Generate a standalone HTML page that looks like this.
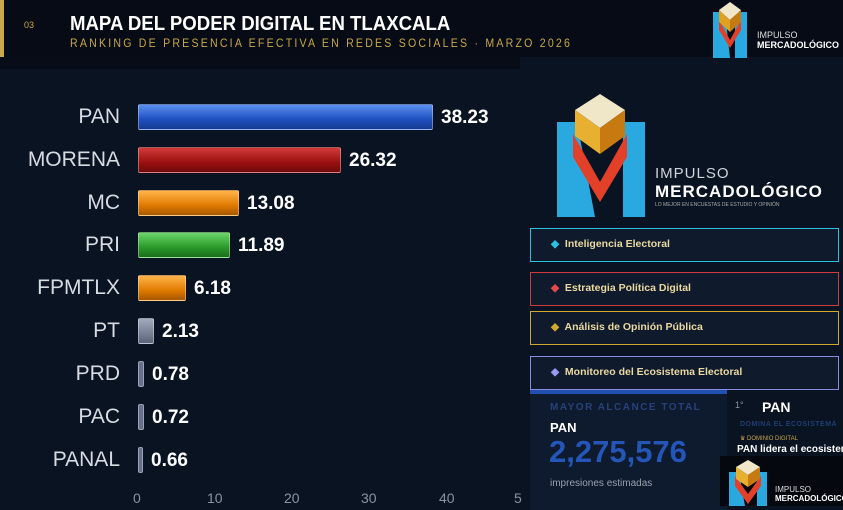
<!DOCTYPE html><html><head><style>
body{margin:0;width:843px;height:506px;overflow:hidden;background:#0a1322;font-family:"Liberation Sans",sans-serif;position:relative}
.a{position:absolute;white-space:nowrap}
.hdr{left:0;top:0;width:843px;height:57px;background:#060b16}
.lbl{color:#d7dbe2;font-size:21px;text-align:right;width:120px;left:0}
.bar{left:138px;height:26px;border-radius:2px;border:1px solid rgba(255,255,255,.35);box-sizing:border-box}
.val{color:#fff;font-weight:bold;font-size:19px}
.box{left:530px;width:309px;height:34px;border:1.5px solid;box-sizing:border-box;background:#0f1a2c;color:#e9d9a0;font-size:10.5px;font-weight:bold;line-height:31px;padding-left:20px}
.tick{color:#8a93a3;font-size:14px;top:490px}
</style></head><body>
<div class="a hdr"></div>
<div class="a" style="left:0;top:0;width:4px;height:57px;background:#c9a74a"></div>
<div class="a" style="left:24px;top:20px;color:#c9a74a;font-size:9px">03</div>
<div class="a" style="left:70px;top:13px;color:#fff;font-size:20px;font-weight:bold;transform:scaleX(.93);transform-origin:left">MAPA DEL PODER DIGITAL EN TLAXCALA</div>
<div class="a" style="left:70px;top:38px;color:#c9a74a;font-size:11.5px;letter-spacing:2.4px;transform:scaleX(.92);transform-origin:left">RANKING DE PRESENCIA EFECTIVA EN REDES SOCIALES · MARZO 2026</div>
<div class="a" style="left:0;top:57px;width:520px;height:12px;background:#070c17"></div>
<svg class="a" style="left:705px;top:0" width="50" height="60"><polygon points="8,12 20,12 25,58 8,58" fill="#29a9e0"/><polygon points="30,12 42,12 42,58 30,58" fill="#29a9e0"/><polygon points="14,20 25,40 36,20 36,30 25,48 14,30" fill="#e3402a"/><polygon points="25,2 36,10 25,20 14,10" fill="#f0e6c8"/><polygon points="14,10 25,20 25,32 14,22" fill="#e0a020"/><polygon points="36,10 25,20 25,32 36,22" fill="#c77a10"/></svg>
<div class="a" style="left:757px;top:30px;color:#ddd;font-size:9px;line-height:10px">IMPULSO<br><b style="color:#fff">MERCADOLÓGICO</b></div>

<div class="a lbl" style="top:105px">PAN</div>
<div class="a lbl" style="top:148px">MORENA</div>
<div class="a lbl" style="top:191px">MC</div>
<div class="a lbl" style="top:233px">PRI</div>
<div class="a lbl" style="top:276px">FPMTLX</div>
<div class="a lbl" style="top:319px">PT</div>
<div class="a lbl" style="top:362px">PRD</div>
<div class="a lbl" style="top:405px">PAC</div>
<div class="a lbl" style="top:448px">PANAL</div>

<div class="a bar" style="top:104px;width:295px;background:linear-gradient(#5a8ff0,#1f4fc0 60%,#173a90)"></div>
<div class="a bar" style="top:147px;width:203px;background:linear-gradient(#d23a3a,#9a1010 60%,#6e0a0a)"></div>
<div class="a bar" style="top:190px;width:101px;background:linear-gradient(#ffb44a,#e07a00 60%,#a85800)"></div>
<div class="a bar" style="top:232px;width:92px;background:linear-gradient(#6ad46a,#2a9a2a 60%,#1a6e1a)"></div>
<div class="a bar" style="top:275px;width:48px;background:linear-gradient(#ffb44a,#e07a00 60%,#a85800)"></div>
<div class="a bar" style="top:318px;width:16px;background:linear-gradient(#a0aabb,#5a6578)"></div>
<div class="a bar" style="top:361px;width:6px;background:#66708a"></div>
<div class="a bar" style="top:404px;width:6px;background:#66708a"></div>
<div class="a bar" style="top:447px;width:5px;background:#66708a"></div>

<div class="a val" style="left:441px;top:107px">38.23</div>
<div class="a val" style="left:349px;top:150px">26.32</div>
<div class="a val" style="left:247px;top:193px">13.08</div>
<div class="a val" style="left:238px;top:235px">11.89</div>
<div class="a val" style="left:194px;top:278px">6.18</div>
<div class="a val" style="left:162px;top:321px">2.13</div>
<div class="a val" style="left:152px;top:364px">0.78</div>
<div class="a val" style="left:152px;top:407px">0.72</div>
<div class="a val" style="left:151px;top:450px">0.66</div>

<div class="a tick" style="left:133px">0</div>
<div class="a tick" style="left:207px">10</div>
<div class="a tick" style="left:284px">20</div>
<div class="a tick" style="left:361px">30</div>
<div class="a tick" style="left:439px">40</div>
<div class="a tick" style="left:514px">5</div>

<svg class="a" style="left:555px;top:92px" width="100" height="125"><polygon points="2,30 22,30 40,125 2,125" fill="#29a9e0"/><polygon points="68,30 90,30 90,125 68,125" fill="#29a9e0"/><polygon points="18,42 45,90 72,42 72,65 45,110 18,65" fill="#e3402a"/><polygon points="45,2 70,18 45,36 20,18" fill="#f0e6c8"/><polygon points="20,18 45,36 45,62 20,44" fill="#e8b030"/><polygon points="70,18 45,36 45,62 70,44" fill="#c77a10"/></svg>
<div class="a" style="left:655px;top:165px;color:#cfd3da;font-size:15px;line-height:18px;letter-spacing:1px">IMPULSO<br><b style="color:#fff;font-size:17px">MERCADOLÓGICO</b></div>
<div class="a" style="left:655px;top:202px;color:#aaa;font-size:5px">LO MEJOR EN ENCUESTAS DE ESTUDIO Y OPINIÓN</div>

<div class="a box" style="top:228px;border-color:#2ac0e0"><span style="color:#2ac0e0">◆</span>&nbsp; Inteligencia Electoral</div>
<div class="a box" style="top:272px;border-color:#d03a3a"><span style="color:#e04a4a">◆</span>&nbsp; Estrategia Política Digital</div>
<div class="a box" style="top:311px;border-color:#d0a830"><span style="color:#d0a830">◆</span>&nbsp; Análisis de Opinión Pública</div>
<div class="a box" style="top:356px;border-color:#8a8ae0"><span style="color:#9a9af0">◆</span>&nbsp; Monitoreo del Ecosistema Electoral</div>

<div class="a" style="left:530px;top:390px;width:197px;height:116px;background:#0e1a2e;border-top:4px solid #2050b0"></div>
<div class="a" style="left:550px;top:402px;color:#27417a;font-size:10px;font-weight:bold;letter-spacing:1.5px">MAYOR ALCANCE TOTAL</div>
<div class="a" style="left:550px;top:420px;color:#fff;font-size:13px;font-weight:bold">PAN</div>
<div class="a" style="left:549px;top:434px;color:#2456b8;font-size:31px;font-weight:bold">2,275,576</div>
<div class="a" style="left:550px;top:478px;color:#9aa2b0;font-size:10px">impresiones estimadas</div>
<div class="a" style="left:735px;top:400px;color:#8a93a3;font-size:9px">1°</div>
<div class="a" style="left:762px;top:399px;color:#fff;font-size:14px;font-weight:bold">PAN</div>
<div class="a" style="left:740px;top:421px;color:#1f3e72;font-size:7px;font-weight:bold;letter-spacing:.5px">DOMINA EL ECOSISTEMA</div>
<div class="a" style="left:740px;top:435px;color:#c9a74a;font-size:6px">♛ DOMINIO DIGITAL</div>
<div class="a" style="left:737px;top:444px;color:#fff;font-size:10px;font-weight:bold">PAN lidera el ecosistema</div>
<div class="a" style="left:720px;top:456px;width:123px;height:50px;background:#05080f"></div>
<svg class="a" style="left:727px;top:458px" width="45" height="48"><polygon points="2,14 12,14 18,48 2,48" fill="#29a9e0"/><polygon points="30,14 40,14 40,48 30,48" fill="#29a9e0"/><polygon points="8,18 21,36 34,18 34,28 21,46 8,28" fill="#e3402a"/><polygon points="21,2 33,9 21,17 9,9" fill="#f0e6c8"/><polygon points="9,9 21,17 21,29 9,21" fill="#e8b030"/><polygon points="33,9 21,17 21,29 33,21" fill="#c77a10"/></svg>
<div class="a" style="left:775px;top:485px;color:#ddd;font-size:8px;line-height:9px">IMPULSO<br><b style="color:#fff">MERCADOLÓGICO</b></div>
</body></html>
